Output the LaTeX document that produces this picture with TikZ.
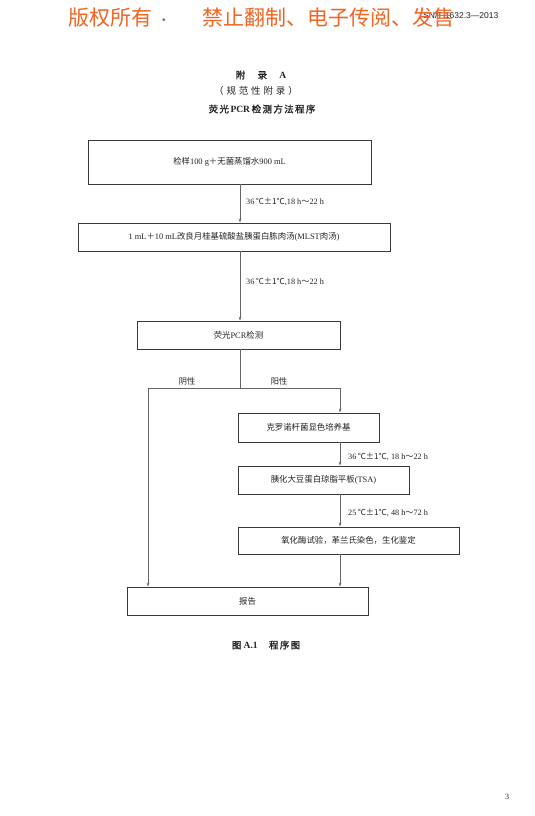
\documentclass[tikz,border=0pt]{standalone}
\usepackage{fontspec}
\setmainfont{Liberation Serif}
\newfontfamily\cjk{Noto Sans CJK SC}
\newfontfamily\cjkb{Noto Sans CJK SC}[FakeBold=1.2]
\newfontfamily\cjkbs{Noto Sans CJK SC}[FakeBold=1.2,LetterSpace=14]
\newfontfamily\cjkt{Noto Sans CJK SC}[LetterSpace=30]
\newfontfamily\hdr{Liberation Sans}
\usetikzlibrary{arrows.meta}
\newcommand\zh[1]{{\cjk #1}}
\definecolor{wm}{RGB}{242,101,34}
\definecolor{ink}{RGB}{35,35,35}
\tikzset{
  box/.style={draw=ink!90, line width=0.9pt, rectangle, inner sep=0pt, font=\fontsize{8.4}{10}\selectfont, text=ink},
  conn/.style={draw=ink!70, line width=0.7pt},
  arr/.style={conn, -{Stealth[length=4pt,width=2.6pt]}},
  lbl/.style={font=\fontsize{8.2}{10}\selectfont, text=ink, inner sep=0pt},
  ttl/.style={font=\fontsize{9.5}{11}\selectfont, text=ink, inner sep=0pt}
}
\begin{document}
\begin{tikzpicture}[x=1pt,y=-1pt]
\useasboundingbox (0,0) rectangle (535,816);
\fill[white] (0,0) rectangle (535,816);
% header
\node[anchor=west, inner sep=0pt, font=\hdr\fontsize{8.5}{10}\selectfont, text=ink] (hdr) at (423,15) {SN/T 1632.3—2013};
\node[anchor=west, inner sep=0pt, font=\cjk\fontsize{21}{24}\selectfont, text=wm] (wm1) at (68,18) {版权所有\ {\fontsize{14}{16}\selectfont\color{ink!60}·}};
\node[anchor=west, inner sep=0pt, font=\cjk\fontsize{21}{24}\selectfont, text=wm] (wm2) at (202,18) {禁止翻制、电子传阅、发售};
% titles
\node[ttl] (t1) at (261,75) {{\cjkb 附}\hspace{1.3em}{\cjkb 录}\hspace{1.3em}\textbf{A}};
\node[ttl] (t2) at (256,91) {{\cjkt （规范性附录）}};
\node[ttl] (t3) at (262,109) {{\cjkbs 荧光}\,\textbf{PCR}\,{\cjkbs 检测方法程序}};
% boxes
\node[box, minimum width=283pt, minimum height=44pt] (b1) at (229.5,162) {\zh{检样}100 g\zh{＋无菌蒸馏水}900 mL};
\node[box, minimum width=312pt, minimum height=28pt] (b2) at (234,237) {1 mL\zh{＋}10 mL\zh{改良月桂基硫酸盐胰蛋白胨肉汤}(MLST\zh{肉汤})};
\node[box, minimum width=203pt, minimum height=28pt] (b3) at (238.5,335) {\zh{荧光}PCR\zh{检测}};
\node[box, minimum width=141pt, minimum height=29pt] (b4) at (308.5,427.5) {\zh{克罗诺杆菌显色培养基}};
\node[box, minimum width=171pt, minimum height=28pt] (b5) at (323.5,480) {\zh{胰化大豆蛋白琼脂平板}(TSA)};
\node[box, minimum width=221pt, minimum height=27pt] (b6) at (348.5,540.5) {\zh{氧化酶试验，革兰氏染色，生化鉴定}};
\node[box, minimum width=241pt, minimum height=28pt] (b7) at (247.5,601) {\zh{报告}};
% helper coordinates
\coordinate (vm) at (240,0);
\coordinate (vr) at (340,0);
\coordinate (vl) at (148,0);
\coordinate (jm) at (240,388);
\coordinate (jl) at (148,388);
\coordinate (jr) at (340,388);
% connectors
\draw[arr] (b1.south -| vm) -- (b2.north -| vm);
\draw[arr] (b2.south -| vm) -- (b3.north -| vm);
\draw[conn] (b3.south -| vm) -- (jm);
\draw[conn] (jl) -- (jr);
\draw[arr] (jr) -- (b4.north -| vr);
\draw[arr] (jl) -- (b7.north -| vl);
\draw[arr] (b4.south -| vr) -- (b5.north -| vr);
\draw[arr] (b5.south -| vr) -- (b6.north -| vr);
\draw[arr] (b6.south -| vr) -- (b7.north -| vr);
% labels
\node[lbl, anchor=west] (l1) at (246,202) {36\,\zh{℃±1℃},18 h\zh{～}22 h};
\node[lbl, anchor=west] (l2) at (246,282) {36\,\zh{℃±1℃},18 h\zh{～}22 h};
\node[lbl] (neg) at (187,381) {\zh{阴性}};
\node[lbl] (pos) at (279,381) {\zh{阳性}};
\node[lbl, anchor=west] (l3) at (348,457) {36\,\zh{℃±1℃}, 18 h\zh{～}22 h};
\node[lbl, anchor=west] (l4) at (348,513) {25\,\zh{℃±1℃}, 48 h\zh{～}72 h};
% caption and page number
\node[ttl] (cap) at (266,645) {{\cjkb 图}\ \textbf{A.1}\hspace{1.2em}{\cjkbs 程序图}};
\node[lbl, font=\fontsize{8}{9}\selectfont] (pg) at (507,797) {3};
\end{tikzpicture}
\end{document}
